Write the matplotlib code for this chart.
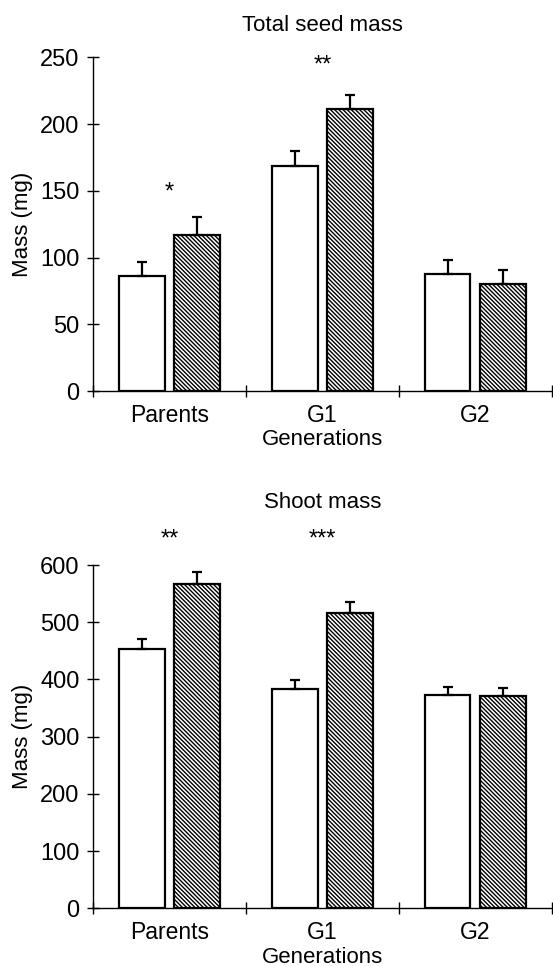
import numpy as np
import matplotlib
matplotlib.use("Agg")
import matplotlib.pyplot as plt

plt.rcParams['font.family'] = ['Liberation Sans', 'DejaVu Sans']
plt.rcParams['hatch.linewidth'] = 1.0

generations = ['Parents', 'G1', 'G2']

# total seed mass (mg): control (white) vs treated (hatched), upper error only
seed_white = [86, 168.5, 87.6]
seed_white_err = [11, 11.5, 10.4]
seed_hatched = [117, 211, 80.5]
seed_hatched_err = [13, 11, 10.5]
seed_stars = ['*', '**', '']
seed_star_y = [144.5, 239.6, 0]

# shoot mass (mg)
shoot_white = [453, 383, 373]
shoot_white_err = [17, 15.5, 13]
shoot_hatched = [566, 517, 371]
shoot_hatched_err = [21, 19, 13.5]
shoot_stars = ['**', '***', '']
shoot_star_y = [634, 634, 0]

seed_ticks = [0, 50, 100, 150, 200, 250]
shoot_ticks = [0, 100, 200, 300, 400, 500, 600]


def draw_panel(ax, white, white_err, hatched, hatched_err, stars, star_y,
               yticks, title, title_pad):
    x = np.arange(len(generations)) + 0.5
    off = 0.182
    w = 0.30
    ax.bar(x - off, white, w, color='white', edgecolor='black', linewidth=1.6, zorder=2)
    ax.bar(x + off, hatched, w, color='white', edgecolor='black', linewidth=1.6,
           hatch='\\\\\\\\\\\\\\\\', zorder=2)
    ax.errorbar(x - off, white, yerr=[np.zeros(len(white)), white_err], fmt='none',
                ecolor='black', elinewidth=1.6, capsize=3.6, capthick=1.6, zorder=3)
    ax.errorbar(x + off, hatched, yerr=[np.zeros(len(hatched)), hatched_err], fmt='none',
                ecolor='black', elinewidth=1.6, capsize=3.6, capthick=1.6, zorder=3)
    for xi, s, sy in zip(x, stars, star_y):
        if s:
            ax.text(xi, sy, s, ha='center', va='baseline', fontsize=17, clip_on=False)

    ax.set_xlim(0, 3)
    ax.set_ylim(yticks[0], yticks[-1])
    ax.set_yticks(yticks)
    ax.set_xticks(x)
    ax.set_xticklabels(generations)
    ax.set_xticks([0, 1, 2, 3], minor=True)
    ax.tick_params(axis='x', which='major', length=0, pad=9, labelsize=16.5)
    ax.tick_params(axis='x', which='minor', length=9, width=1, direction='inout')
    ax.tick_params(axis='y', length=9, width=1, direction='inout', pad=5, labelsize=17)
    for side in ['top', 'right']:
        ax.spines[side].set_visible(False)
    for side in ['left', 'bottom']:
        ax.spines[side].set_linewidth(1)
    ax.set_ylabel('Mass (mg)', fontsize=16, labelpad=5)
    ax.set_xlabel('Generations', fontsize=16, labelpad=2)
    ax.set_title(title, fontsize=16, pad=title_pad)


fig = plt.figure(figsize=(5.53, 9.66), dpi=100)
ax1 = fig.add_axes([0.168, 0.5952, 0.830, 0.3455])
ax2 = fig.add_axes([0.168, 0.0597, 0.830, 0.3554])

draw_panel(ax1, seed_white, seed_white_err, seed_hatched, seed_hatched_err,
           seed_stars, seed_star_y, seed_ticks, 'Total seed mass', 19)
draw_panel(ax2, shoot_white, shoot_white_err, shoot_hatched, shoot_hatched_err,
           shoot_stars, shoot_star_y, shoot_ticks, 'Shoot mass', 41)

fig.savefig('out.png', dpi=100)
